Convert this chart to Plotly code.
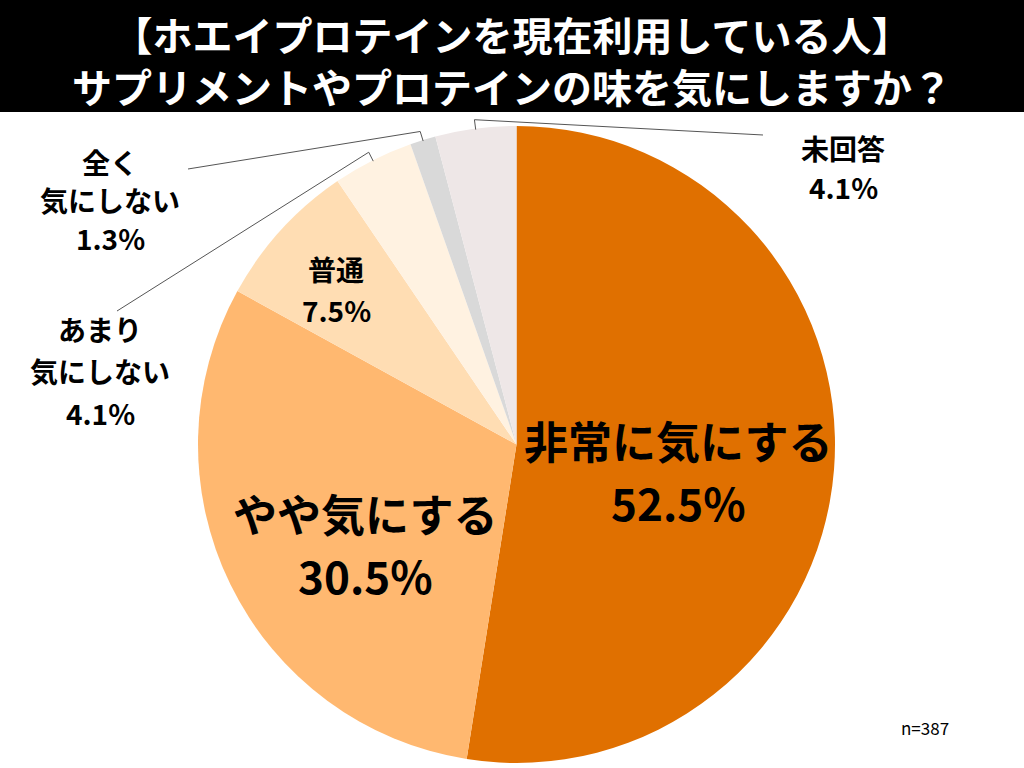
import math
import plotly.graph_objects as go

# data
labels = ["非常に気にする", "やや気にする", "普通", "あまり気にしない", "全く気にしない", "未回答"]
values = [52.5, 30.5, 7.5, 4.1, 1.3, 4.1]
colors = ["#E07000", "#FFB870", "#FFDDB3", "#FFF2E1", "#D9D9D9", "#EEE7E7"]
title_lines = ["【ホエイプロテインを現在利用している人】", "サプリメントやプロテインの味を気にしますか？"]
sample_note = "n=387"

W, H = 1024, 768
FONT = "Noto Sans CJK JP"

# pie box in pixels
cx, cy, r = 516.5, 444.5, 318.5


def px(x):
    return x / W


def py(y):
    return 1 - y / H


fig = go.Figure(go.Pie(
    labels=labels,
    values=values,
    marker=dict(colors=colors, line=dict(width=0)),
    sort=False,
    direction="clockwise",
    rotation=0,
    textinfo="none",
    hoverinfo="label+percent",
    domain=dict(x=[px(cx - r), px(cx + r)], y=[py(cy + r), py(cy - r)]),
    showlegend=False,
))

annotations = []
shapes = []


def label(text, x, y, size, bold=True, color="black"):
    annotations.append(dict(x=px(x), y=py(y), xref="paper", yref="paper",
                            xanchor="center", yanchor="middle",
                            text="<b>%s</b>" % text if bold else text, showarrow=False,
                            font=dict(family=FONT, size=size, color=color)))


# black title band, both lines in one annotation
shapes.append(dict(type="rect", xref="paper", yref="paper", x0=0, x1=1, y0=py(112), y1=1,
                   fillcolor="black", line=dict(width=0), layer="below"))
label("<br>".join(title_lines), 512, 60, 40, color="white")

# labels: (text lines, x, y, size, line step)
slice_labels = [
    (["非常に気にする", "52.5%"], 678, 440, 44, 62),
    (["やや気にする", "30.5%"], 365, 513, 44, 62),
    (["普通", "7.5%"], 336, 269, 28, 41),
    (["あまり", "気にしない", "4.1%"], 100, 329, 28, 42),
    (["全く", "気にしない", "1.3%"], 110, 162, 28, 38),
    (["未回答", "4.1%"], 843, 148, 28, 39),
]
for lines, x, y, size, step in slice_labels:
    for j, t in enumerate(lines):
        label(t, x, y + j * step, size)

# leader lines for the small slices, from slice mid angle to label
ends = {3: (117, 311), 4: (188, 169), 5: (763, 135)}
total = sum(values)
acc = 0
mids = []
for v in values:
    mids.append((acc + v / 2) / total * 2 * math.pi)
    acc += v
for idx, (ex, ey) in ends.items():
    a = mids[idx]
    sx, sy = cx + (r - 1) * math.sin(a), cy - (r - 1) * math.cos(a)
    kx, ky = cx + (r + 9) * math.sin(a), cy - (r + 9) * math.cos(a)
    path = "M %f %f L %f %f L %f %f" % (px(sx), py(sy), px(kx), py(ky), px(ex), py(ey))
    shapes.append(dict(type="path", xref="paper", yref="paper", path=path,
                       line=dict(color="#555555", width=1)))

label(sample_note, 925, 727, 17, bold=False)

fig.update_layout(
    width=W, height=H,
    margin=dict(l=0, r=0, t=0, b=0),
    paper_bgcolor="white",
    plot_bgcolor="white",
    annotations=annotations,
    shapes=shapes,
)

fig.write_html("out.html", config={"displayModeBar": False},
               post_script="document.body.style.margin='0';")
